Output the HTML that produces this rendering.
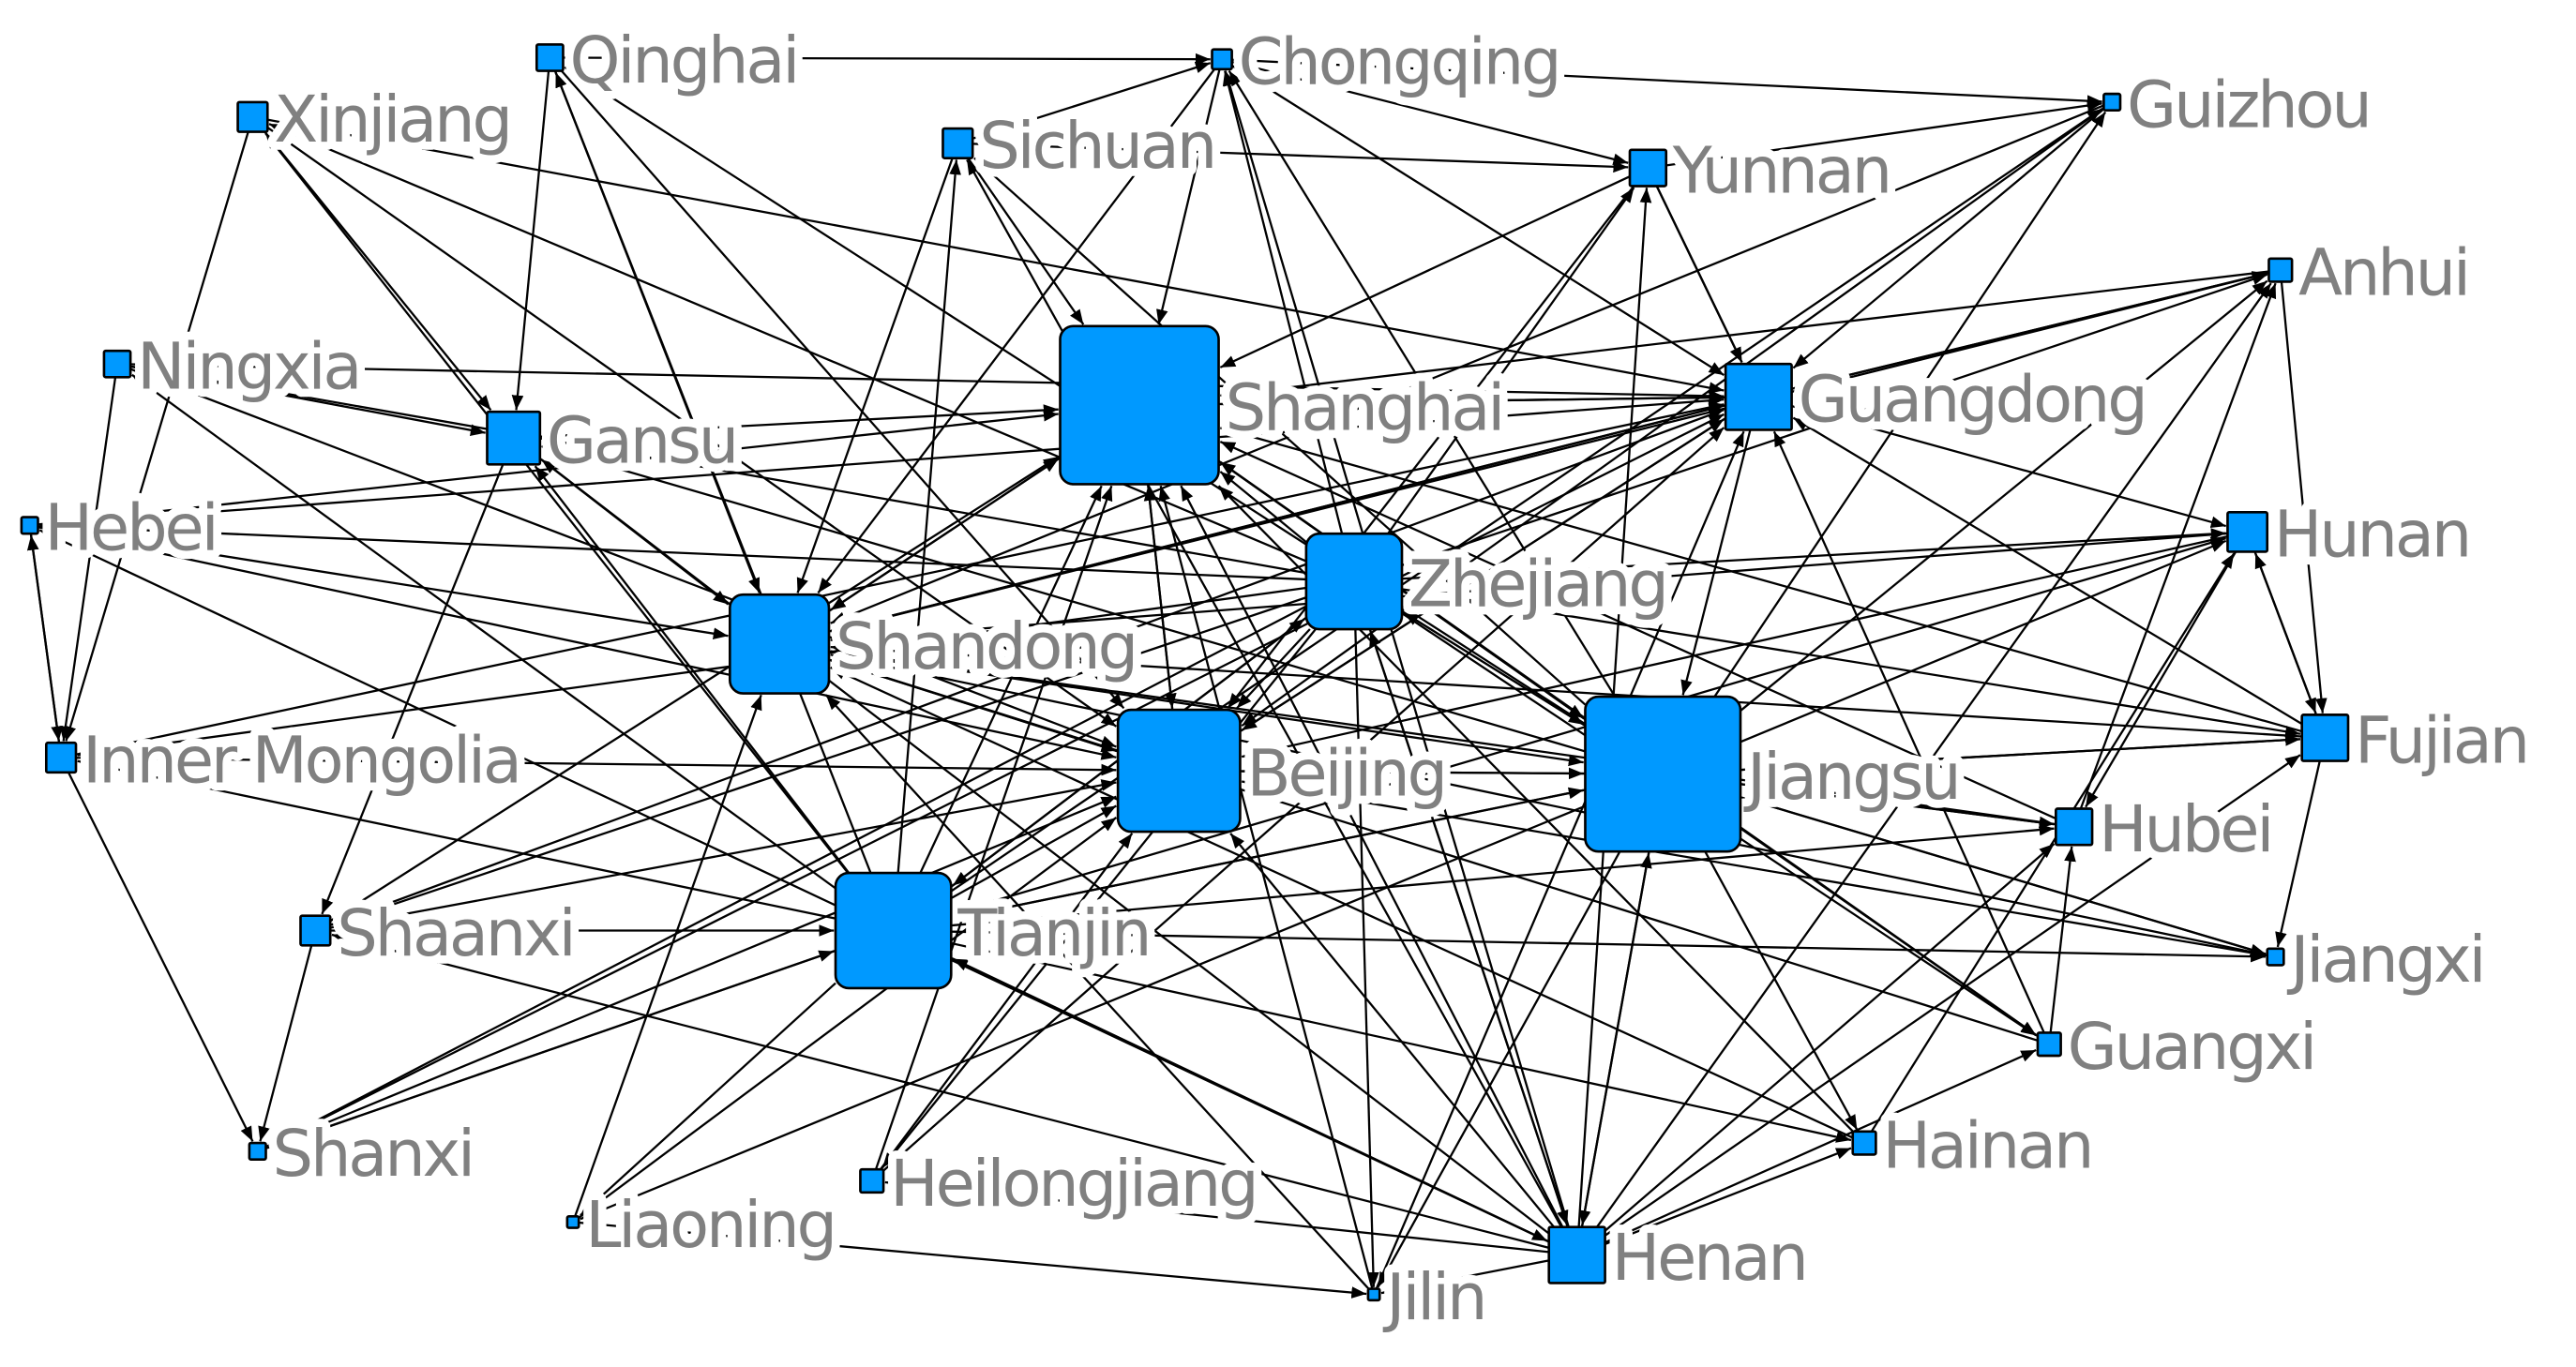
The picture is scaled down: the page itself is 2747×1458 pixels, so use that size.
<!DOCTYPE html>
<html><head><meta charset="utf-8"><style>
html,body{margin:0;padding:0;background:#fff;}
svg{display:block;}
text{font-family:"DejaVu Sans","Liberation Sans",sans-serif;font-size:39px;fill:#808080;letter-spacing:-1.8px;}
</style></head><body>
<svg id="s" width="2747" height="1458" viewBox="0 0 1560 830" preserveAspectRatio="none" xmlns="http://www.w3.org/2000/svg">
<defs><marker id="a" viewBox="0 0 10 10" refX="10" refY="5" markerWidth="9" markerHeight="9" markerUnits="userSpaceOnUse" orient="auto"><path d="M0,1 L10,5 L0,9 z" fill="#000"/></marker></defs>
<g id="e" stroke="#000" stroke-width="1.3" fill="none"></g>
<g id="l"></g>
<g id="n"></g>
</svg>
<script>
var N={
Qinghai:[333,35,16],Chongqing:[740,36,12],Xinjiang:[153,71,18],Sichuan:[580,87,18],Yunnan:[998,102,22],Guizhou:[1279,62,10],Anhui:[1381,164,14],
Ningxia:[71,221,16],Gansu:[311,266,32],Shanghai:[690,246,96],Guangdong:[1065,241,40],Hebei:[18,319,10],Hunan:[1361,323,24],
Zhejiang:[820,353,58],Shandong:[472,391,60],Beijing:[714,468,74],Jiangsu:[1007,470,94],Fujian:[1408,448,28],"Inner Mongolia":[37,460,18],
Hubei:[1256,502,22],Shaanxi:[191,565,18],Tianjin:[541,565,70],Jiangxi:[1378,581,10],Guangxi:[1241,634,14],Shanxi:[156,699,10],
Hainan:[1129,694,14],Heilongjiang:[528,717,14],Liaoning:[347,742,7],Henan:[955,762,34],Jilin:[832,786,7]};
var hubs=["Shanghai","Jiangsu","Beijing","Zhejiang","Shandong","Tianjin","Guangdong","Henan"];
var E=[];
function add(a,b){E.push([a,b]);}
for(var i=0;i<hubs.length;i++)for(var j=0;j<hubs.length;j++)if(i!=j&&((i*3+j)%2==0||j<3))add(hubs[i],hubs[j]);
var k=0;
for(var nm in N){if(hubs.indexOf(nm)>=0)continue;
 for(var h=0;h<hubs.length;h++){k++;
  if((k*7)%10<6){ if(k%2)add(nm,hubs[h]);else add(hubs[h],nm);} }}
[["Qinghai","Chongqing"],["Sichuan","Chongqing"],["Chongqing","Yunnan"],["Chongqing","Guizhou"],["Qinghai","Gansu"],["Ningxia","Gansu"],["Xinjiang","Gansu"],
["Hebei","Inner Mongolia"],["Inner Mongolia","Hebei"],["Inner Mongolia","Shanxi"],["Ningxia","Inner Mongolia"],["Xinjiang","Inner Mongolia"],["Gansu","Shaanxi"],
["Hunan","Fujian"],["Fujian","Hunan"],["Anhui","Fujian"],["Hubei","Anhui"],["Fujian","Jiangxi"],["Hunan","Hubei"],["Yunnan","Guangdong"],["Guizhou","Guangdong"],
["Jiangsu","Hubei"],["Jiangsu","Jiangxi"],["Guangdong","Anhui"],["Guangdong","Hunan"],["Hebei","Shandong"],["Shaanxi","Shanxi"],["Liaoning","Jilin"],
["Zhejiang","Hunan"],["Jiangsu","Fujian"],["Guangxi","Hubei"],["Hainan","Hunan"],["Yunnan","Guizhou"],["Sichuan","Yunnan"],["Shaanxi","Tianjin"],["Shanxi","Tianjin"]].forEach(function(p){add(p[0],p[1]);});
var ns="http://www.w3.org/2000/svg";
function el(t,at,p){var e=document.createElementNS(ns,t);for(var q in at)e.setAttribute(q,at[q]);p.appendChild(e);return e;}
var ge=document.getElementById("e"),gl=document.getElementById("l"),gn=document.getElementById("n");
function clip(x,y,dx,dy,h){var tx=Math.abs(dx)>0?h/Math.abs(dx):1e9,ty=Math.abs(dy)>0?h/Math.abs(dy):1e9;var t=Math.min(tx,ty);return [x+dx*t,y+dy*t];}
E.forEach(function(p){var A=N[p[0]],B=N[p[1]];if(!A||!B)return;var dx=B[0]-A[0],dy=B[1]-A[1];
 var s=clip(A[0],A[1],dx,dy,A[2]/2),t=clip(B[0],B[1],-dx,-dy,B[2]/2+1);
 el("line",{x1:s[0],y1:s[1],x2:t[0],y2:t[1],"marker-end":"url(#a)"},ge);});
for(var nm in N){var v=N[nm],s=v[2];
 var tx=el("text",{x:v[0]+s/2+4,y:v[1]+15,stroke:"#fff","stroke-width":"10","paint-order":"stroke","stroke-linejoin":"round"},gl);tx.textContent=nm;
 el("rect",{x:v[0]-s/2,y:v[1]-s/2,width:s,height:s,rx:s>40?8:1,fill:"#0099ff",stroke:"#000","stroke-width":"1.5"},gn);}
</script>
</body></html>
